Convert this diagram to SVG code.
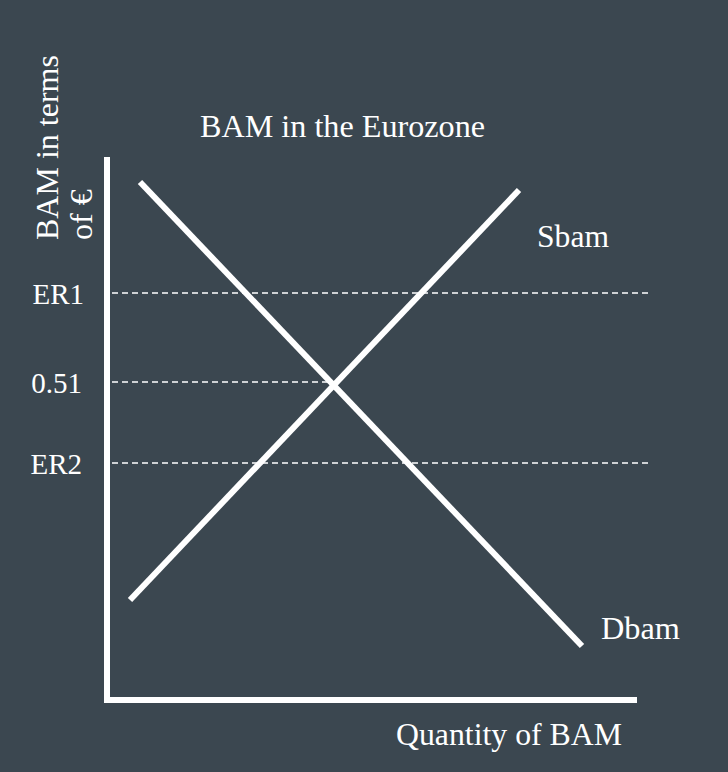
<svg xmlns="http://www.w3.org/2000/svg" width="728" height="772" viewBox="0 0 728 772">
  <style>
    .t { font-family: "Liberation Serif", "Times New Roman", serif; fill: #ffffff; }
    .curve { stroke: #ffffff; stroke-width: 6; fill: none; stroke-linecap: butt; }
    .axis { stroke: #ffffff; stroke-width: 6; fill: none; }
    .dash { stroke: #ffffff; stroke-width: 1.5; stroke-dasharray: 6 4; fill: none; }
  </style>
  <rect x="0" y="0" width="728" height="772" fill="#3b4750"/>
  <text class="t" x="200" y="137" font-size="32" textLength="285" lengthAdjust="spacingAndGlyphs">BAM in the Eurozone</text>
  <g id="y-label">
    <text class="t" font-size="32" transform="translate(58,240) rotate(-90)">BAM in terms</text>
    <text class="t" font-size="32" transform="translate(92,240) rotate(-90)">of €</text>
  </g>
  <g id="axes">
    <line class="axis" x1="107" y1="157" x2="107" y2="703"/>
    <line class="axis" x1="104" y1="700" x2="637" y2="700"/>
  </g>
  <g id="connectors">
    <line class="dash" x1="112" y1="293" x2="652" y2="293"/>
    <line class="dash" x1="112" y1="382" x2="336" y2="382"/>
    <line class="dash" x1="112" y1="463" x2="650" y2="463"/>
  </g>
  <g id="ticks">
    <text class="t" x="84" y="304" font-size="29" text-anchor="end">ER1</text>
    <text class="t" x="82" y="393" font-size="29" text-anchor="end">0.51</text>
    <text class="t" x="82" y="474" font-size="29" text-anchor="end">ER2</text>
  </g>
  <g id="demand">
    <line class="curve" x1="140" y1="182" x2="582" y2="646"/>
    <text class="t" x="601" y="639" font-size="32" textLength="79" lengthAdjust="spacingAndGlyphs">Dbam</text>
  </g>
  <g id="supply">
    <line class="curve" x1="130" y1="600" x2="519" y2="190"/>
    <text class="t" x="537" y="247" font-size="31" textLength="72" lengthAdjust="spacingAndGlyphs">Sbam</text>
  </g>
  <text class="t" x="396" y="745" font-size="32" textLength="226" lengthAdjust="spacingAndGlyphs">Quantity of BAM</text>
</svg>
